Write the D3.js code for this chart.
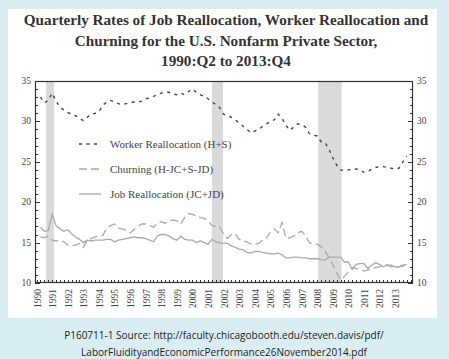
<!DOCTYPE html>
<html><head><meta charset="utf-8">
<script src="https://cdn.jsdelivr.net/npm/d3@7"></script>
<style>html,body{margin:0;padding:0;background:#daedf3;}svg{display:block;}</style>
</head><body>
<script>
// ---- data ----
const startYear = 1990, startQuarter = 2; // 1990:Q2 .. 2013:Q4
const workerRealloc = [33.0,32.3,32.6,33.5,32.5,31.8,31.4,31.1,30.9,30.7,30.4,30.1,30.5,30.9,31.0,31.2,32.0,32.4,32.6,32.4,32.2,32.1,32.2,32.3,32.4,32.4,32.5,32.8,32.9,33.1,33.3,33.5,33.6,33.6,33.4,33.3,33.5,33.3,33.7,34.0,33.6,33.3,33.1,32.8,32.4,32.1,31.7,30.9,30.7,30.5,30.2,29.8,29.4,29.0,28.6,28.8,29.0,29.4,29.7,30.0,30.2,30.9,30.4,29.5,28.9,29.3,29.7,29.6,29.3,28.5,28.3,28.2,27.5,27.4,26.6,25.5,24.6,24.0,23.9,24.0,24.1,24.1,24.0,23.7,23.8,24.1,24.3,24.4,24.4,24.3,24.2,24.1,24.2,25.0,25.7];
const churning = [15.7,15.6,15.8,15.3,15.2,15.3,15.1,14.7,14.6,14.7,14.9,14.4,15.3,15.5,15.7,15.8,15.9,16.8,17.1,17.3,16.8,16.7,16.5,16.2,16.6,17.0,17.3,17.3,17.1,16.9,17.4,17.6,17.4,17.7,17.8,17.7,17.3,18.1,18.6,18.5,18.3,18.1,18.0,17.8,17.1,17.0,16.9,16.1,15.5,16.0,16.1,15.4,15.2,15.1,14.8,14.8,14.9,15.3,15.6,16.3,16.7,16.2,17.5,15.5,15.6,15.8,16.2,16.4,15.9,15.0,14.8,14.8,14.5,14.0,13.2,12.3,11.3,10.4,10.8,11.4,11.9,11.8,11.6,11.5,11.6,11.8,11.9,12.0,12.2,12.2,12.0,12.0,12.0,12.1,12.2];
const jobRealloc = [16.9,16.4,16.5,18.5,17.1,16.7,16.4,16.6,16.1,15.7,15.4,15.0,15.3,15.2,15.3,15.3,15.3,15.4,15.4,15.1,15.3,15.4,15.5,15.6,15.7,15.6,15.6,15.5,15.3,15.1,15.8,16.0,16.0,15.8,15.5,15.3,15.8,15.4,15.3,15.3,15.0,15.2,15.0,14.8,15.4,15.1,15.0,14.9,14.9,14.6,14.4,14.2,14.1,13.8,13.7,13.9,13.9,13.8,13.7,13.6,13.6,13.7,13.5,13.1,13.1,13.2,13.2,13.1,13.1,13.0,13.0,13.0,12.9,12.8,13.2,13.2,13.2,13.2,12.6,12.6,11.7,12.3,12.4,12.4,11.8,12.2,12.5,12.3,12.0,12.2,12.2,12.0,12.0,12.2,12.3];
const recessions = [[1990.6,1991.12],[2001.25,2001.96],[2008.07,2009.57]];
const yearLabels = d3.range(1990, 2014);
const yTicks = [10,15,20,25,30,35];
const titleLines = ["Quarterly Rates of Job Reallocation, Worker Reallocation and","Churning for the U.S. Nonfarm Private Sector,","1990:Q2 to 2013:Q4"];
const legendLabels = ["Worker Reallocation (H+S)","Churning (H-JC+S-JD)","Job Reallocation (JC+JD)"];
const sourceLines = ["P160711-1 Source: http://faculty.chicagobooth.edu/steven.davis/pdf/","LaborFluidityandEconomicPerformance26November2014.pdf"];

// ---- layout ----
const W = 449, H = 359;
const L = 35, R = 413, T = 81, B = 283;
const svg = d3.select("body").append("svg").attr("width", W).attr("height", H);
svg.append("rect").attr("width", W).attr("height", H).attr("fill", "#daedf3");
svg.append("rect").attr("x", 8).attr("y", 9).attr("width", 429).attr("height", 309).attr("fill", "#fff");

const x = d3.scaleLinear().domain([1989.9, 2014.15]).range([L, R]);
const y = d3.scaleLinear().domain([10, 35]).range([B, T]);
const tOf = i => startYear + (startQuarter - 1) / 4 + i * 0.25;

// title
const serif = "'Liberation Serif','DejaVu Serif',serif";
svg.append("g").selectAll("text").data(titleLines).join("text")
  .attr("x", 226).attr("y", (d, i) => 25 + i * 20.5)
  .attr("text-anchor", "middle").attr("font-family", serif).attr("font-weight", "bold")
  .attr("font-size", 15.2).attr("fill", "#333").text(d => d);

// recessions
svg.append("g").selectAll("rect").data(recessions).join("rect")
  .attr("x", d => x(d[0])).attr("width", d => x(d[1]) - x(d[0]))
  .attr("y", T).attr("height", B - T).attr("fill", "#d9dadc");

// axes
const axisCol = "#333";
const gAx = svg.append("g").attr("stroke", axisCol).attr("stroke-width", 1);
const minorY = d3.range(10, 36, 1);
gAx.append("g").selectAll("line").data(minorY).join("line")
  .attr("x1", L).attr("x2", d => L + (d % 5 === 0 ? 5 : 3))
  .attr("y1", d => Math.round(y(d)) + 0.5).attr("y2", d => Math.round(y(d)) + 0.5);
gAx.append("g").selectAll("line").data(minorY).join("line")
  .attr("x1", R).attr("x2", d => R - (d % 5 === 0 ? 5 : 3))
  .attr("y1", d => Math.round(y(d)) + 0.5).attr("y2", d => Math.round(y(d)) + 0.5);
const qTicks = d3.range(0, 97).map(i => 1990 + i * 0.25);
gAx.append("g").selectAll("line").data(qTicks).join("line")
  .attr("x1", d => Math.round(x(d)) + 0.5).attr("x2", d => Math.round(x(d)) + 0.5)
  .attr("y1", B).attr("y2", B - 3);
svg.append("rect").attr("x", L + 0.5).attr("y", T + 0.5).attr("width", R - L - 1).attr("height", B - T - 1)
  .attr("fill", "none").attr("stroke", axisCol).attr("stroke-width", 1.2);

const lab = svg.append("g").attr("font-family", serif).attr("font-size", 9.5).attr("fill", "#444");
lab.selectAll(".yl").data(yTicks).join("text").attr("class", "yl")
  .attr("x", L - 4).attr("y", d => y(d) + 3).attr("text-anchor", "end").text(d => d);
lab.selectAll(".yr").data(yTicks).join("text").attr("class", "yr")
  .attr("x", R + 4).attr("y", d => y(d) + 3).attr("text-anchor", "start").text(d => d);
lab.selectAll(".xl").data(yearLabels).join("text").attr("class", "xl")
  .attr("transform", d => `translate(${x(d) + 4},${B + 6}) rotate(-90)`)
  .attr("text-anchor", "end").attr("font-size", 9.5).text(d => d);

// lines
const line = d3.line().x((d, i) => x(tOf(i))).y(d => y(d));
const series = [
  {data: churning, color: "#a9a9a9", dash: "8,4", w: 1.3},
  {data: jobRealloc, color: "#a9a9a9", dash: null, w: 1.3},
  {data: workerRealloc, color: "#444", dash: "3,4.5", w: 1.4}
];
svg.append("g").selectAll("path").data(series).join("path")
  .attr("d", d => line(d.data)).attr("fill", "none")
  .attr("stroke", d => d.color).attr("stroke-width", d => d.w)
  .attr("stroke-dasharray", d => d.dash);

// legend
const legStyles = [series[2], series[0], series[1]];
const leg = svg.append("g");
legendLabels.forEach((t, i) => {
  const yy = 144 + i * 25;
  leg.append("line").attr("x1", 79).attr("x2", 101).attr("y1", yy).attr("y2", yy)
    .attr("stroke", legStyles[i].color).attr("stroke-width", legStyles[i].w)
    .attr("stroke-dasharray", legStyles[i].dash);
  leg.append("text").attr("x", 110).attr("y", yy + 3.5).attr("font-family", serif)
    .attr("font-size", 11).attr("fill", "#444").text(t);
});

// source
svg.append("g").selectAll("text").data(sourceLines).join("text")
  .attr("x", 224).attr("y", (d, i) => 339 + i * 17).attr("text-anchor", "middle")
  .attr("font-family", "'Open Sans','Liberation Sans',sans-serif").attr("font-size", 10)
  .attr("fill", "#222").text(d => d);
</script>
</body></html>
